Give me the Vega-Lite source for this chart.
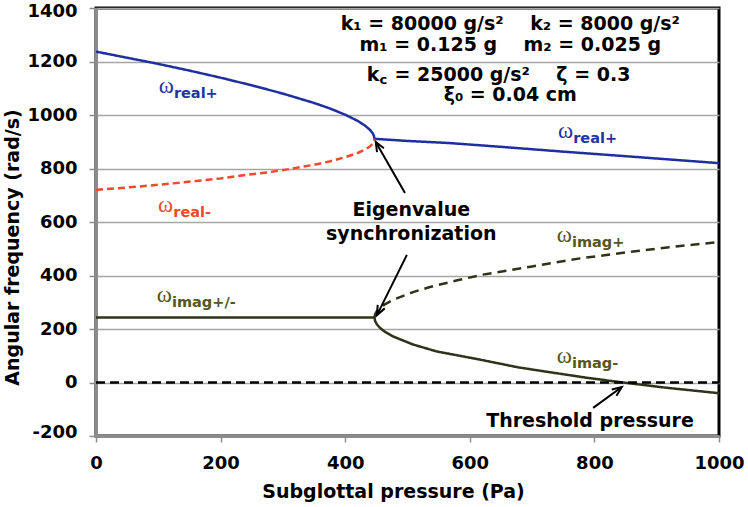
{
  "$schema": "https://vega.github.io/schema/vega-lite/v6.json",
  "width": 623,
  "height": 428,
  "autosize": "none",
  "padding": {"left": 96, "top": 8, "right": 29, "bottom": 71},
  "background": "white",
  "config": {
    "view": {"stroke": "#000000", "strokeWidth": 3},
    "text": {"font": "DejaVu Sans"}
  },
  "datasets": {
    "curves": [
      {"s": "b", "p": 0, "w": 1237}, {"s": "b", "p": 50, "w": 1214}, {"s": "b", "p": 100, "w": 1191}, {"s": "b", "p": 150, "w": 1166},
      {"s": "b", "p": 199, "w": 1140}, {"s": "b", "p": 250, "w": 1111}, {"s": "b", "p": 300, "w": 1080}, {"s": "b", "p": 350, "w": 1045},
      {"s": "b", "p": 376, "w": 1024}, {"s": "b", "p": 401, "w": 1000}, {"s": "b", "p": 420, "w": 978}, {"s": "b", "p": 432, "w": 960},
      {"s": "b", "p": 440, "w": 944}, {"s": "b", "p": 444, "w": 932}, {"s": "b", "p": 446, "w": 923}, {"s": "b", "p": 447, "w": 911},
      {"s": "b", "p": 500, "w": 903}, {"s": "b", "p": 568, "w": 895}, {"s": "b", "p": 650, "w": 881}, {"s": "b", "p": 750, "w": 863},
      {"s": "b", "p": 850, "w": 846}, {"s": "b", "p": 1000, "w": 820},
      {"s": "r", "p": 0, "w": 720}, {"s": "r", "p": 50, "w": 729}, {"s": "r", "p": 100, "w": 739}, {"s": "r", "p": 160, "w": 753},
      {"s": "r", "p": 200, "w": 763}, {"s": "r", "p": 241, "w": 776}, {"s": "r", "p": 280, "w": 787}, {"s": "r", "p": 316, "w": 800},
      {"s": "r", "p": 350, "w": 814}, {"s": "r", "p": 376, "w": 827}, {"s": "r", "p": 401, "w": 843}, {"s": "r", "p": 420, "w": 858},
      {"s": "r", "p": 432, "w": 871}, {"s": "r", "p": 440, "w": 883}, {"s": "r", "p": 444, "w": 893}, {"s": "r", "p": 446, "w": 900},
      {"s": "r", "p": 447, "w": 911},
      {"s": "o", "p": 0, "w": 243}, {"s": "o", "p": 200, "w": 243}, {"s": "o", "p": 447, "w": 243}, {"s": "o", "p": 448, "w": 230},
      {"s": "o", "p": 451, "w": 217}, {"s": "o", "p": 456, "w": 204}, {"s": "o", "p": 463, "w": 191}, {"s": "o", "p": 477, "w": 172},
      {"s": "o", "p": 509, "w": 142}, {"s": "o", "p": 547, "w": 116}, {"s": "o", "p": 611, "w": 88}, {"s": "o", "p": 677, "w": 57},
      {"s": "o", "p": 724, "w": 40}, {"s": "o", "p": 787, "w": 18}, {"s": "o", "p": 846, "w": 0}, {"s": "o", "p": 917, "w": -20},
      {"s": "o", "p": 1000, "w": -40},
      {"s": "od", "p": 447, "w": 243}, {"s": "od", "p": 448, "w": 255}, {"s": "od", "p": 451, "w": 267}, {"s": "od", "p": 456, "w": 279},
      {"s": "od", "p": 463, "w": 291}, {"s": "od", "p": 477, "w": 309}, {"s": "od", "p": 509, "w": 338}, {"s": "od", "p": 536, "w": 357},
      {"s": "od", "p": 580, "w": 382}, {"s": "od", "p": 620, "w": 403}, {"s": "od", "p": 700, "w": 434}, {"s": "od", "p": 777, "w": 464},
      {"s": "od", "p": 850, "w": 486}, {"s": "od", "p": 920, "w": 506}, {"s": "od", "p": 1000, "w": 525},
      {"s": "z", "p": 0, "w": 0}, {"s": "z", "p": 1000, "w": 0}
    ],
    "labels": [
      {"g": "b", "lab": "real+", "p": 125, "w": 1082},
      {"g": "b", "lab": "real+", "p": 766, "w": 914},
      {"g": "r", "lab": "real-", "p": 124, "w": 637},
      {"g": "o", "lab": "imag+/-", "p": 122, "w": 301},
      {"g": "o", "lab": "imag+", "p": 764, "w": 525},
      {"g": "o", "lab": "imag-", "p": 764, "w": 73}
    ],
    "notes": [
      {"t": "k₁ = 80000 g/s²\u00a0\u00a0\u00a0\u00a0k₂ = 8000 g/s²", "p": 665, "w": 1340},
      {"t": "m₁ = 0.125 g\u00a0\u00a0\u00a0\u00a0m₂ = 0.025 g", "p": 665, "w": 1262},
      {"t": "ξ₀ = 0.04 cm", "p": 665, "w": 1073},
      {"t": "Eigenvalue", "p": 506, "w": 645},
      {"t": "synchronization", "p": 506, "w": 555},
      {"t": "Threshold pressure", "p": 793, "w": -144}
    ],
    "kc": [
      {"part": "k", "t": "k", "p": 455, "w": 1148},
      {"part": "c", "t": "c", "p": 455, "w": 1148},
      {"part": "rest", "t": "= 25000 g/s²\u00a0\u00a0\u00a0\u00a0ζ = 0.3", "p": 455, "w": 1148}
    ],
    "arrows": [
      {"id": "a", "p": 496, "w": 708, "p2": 449, "w2": 899},
      {"id": "b", "p": 499, "w": 477, "p2": 451, "w2": 252},
      {"id": "c", "p": 798, "w": -95, "p2": 844, "w2": -17}
    ]
  },
  "layer": [
    {
      "data": {"name": "curves"},
      "mark": {"type": "line", "strokeWidth": 2.5},
      "encoding": {
        "x": {
          "field": "p", "type": "quantitative", "title": "Subglottal pressure (Pa)",
          "scale": {"domain": [0, 1000], "nice": false, "zero": false},
          "axis": {
            "values": [0, 200, 400, 600, 800, 1000],
            "labelExpr": "datum.value < 0 ? '-' + abs(datum.value) : '' + datum.value",
            "grid": false,
            "domainColor": "#8c8c8c", "domainWidth": 3,
            "tickColor": "#8c8c8c", "tickWidth": 1.5, "tickSize": 6,
            "labelFont": "DejaVu Sans", "labelFontWeight": "bold", "labelFontSize": 18,
            "labelColor": "#000000", "labelPadding": 12, "labelFlush": false, "labelOverlap": false,
            "titleFont": "DejaVu Sans", "titleFontWeight": "bold", "titleFontSize": 19, "titleColor": "#000000",
            "titleX": 297, "titleY": 55, "titleBaseline": "middle", "titleAlign": "center"
          }
        },
        "y": {
          "field": "w", "type": "quantitative", "title": "Angular frequency (rad/s)",
          "scale": {"domain": [-200, 1400], "nice": false, "zero": false},
          "axis": {
            "values": [-200, 0, 200, 400, 600, 800, 1000, 1200, 1400],
            "labelExpr": "datum.value < 0 ? '-' + abs(datum.value) : '' + datum.value",
            "labelOffset": {"expr": "datum.value == 1400 ? 3 : (datum.value == -200 ? -4 : 0)"},
            "grid": true, "gridColor": "#a6a6a6", "gridWidth": 1.5,
            "domainColor": "#8c8c8c", "domainWidth": 3,
            "tickColor": "#8c8c8c", "tickWidth": 1.5, "tickSize": 7,
            "labelFont": "DejaVu Sans", "labelFontWeight": "bold", "labelFontSize": 18,
            "labelColor": "#000000", "labelPadding": 12, "labelFlush": false, "labelOverlap": false,
            "titleFont": "DejaVu Sans", "titleFontWeight": "bold", "titleFontSize": 19, "titleColor": "#000000",
            "titleX": -84, "titleY": 239, "titleAngle": 270, "titleAlign": "center", "titleBaseline": "middle"
          }
        },
        "color": {
          "field": "s", "type": "nominal",
          "scale": {"domain": ["b", "r", "o", "od", "z"], "range": ["#1f2f9f", "#ef4a2b", "#2f3319", "#2f3319", "#000000"]},
          "legend": null
        },
        "strokeDash": {
          "field": "s", "type": "nominal",
          "scale": {"domain": ["b", "r", "o", "od", "z"], "range": [[1, 0], [7, 4], [1, 0], [9, 6], [9, 5]]},
          "legend": null
        }
      }
    },
    {
      "data": {"name": "arrows"},
      "mark": {"type": "rule", "color": "#000000", "strokeWidth": 2},
      "encoding": {
        "x": {"field": "p", "type": "quantitative", "title": "Subglottal pressure (Pa)"},
        "y": {"field": "w", "type": "quantitative", "title": "Angular frequency (rad/s)"},
        "x2": {"field": "p2"},
        "y2": {"field": "w2"}
      }
    },
    {
      "data": {"name": "arrows"},
      "transform": [{"filter": "datum.id === 'a'"}],
      "mark": {"type": "point", "shape": "M-0.5,1.2L0,0L0.5,1.2", "filled": false, "stroke": "#000000", "strokeWidth": 2, "size": 250, "angle": 330, "opacity": 1},
      "encoding": {
        "x": {"field": "p2", "type": "quantitative", "title": "Subglottal pressure (Pa)"},
        "y": {"field": "w2", "type": "quantitative", "title": "Angular frequency (rad/s)"}
      }
    },
    {
      "data": {"name": "arrows"},
      "transform": [{"filter": "datum.id === 'b'"}],
      "mark": {"type": "point", "shape": "M-0.5,1.2L0,0L0.5,1.2", "filled": false, "stroke": "#000000", "strokeWidth": 2, "size": 250, "angle": 206.6, "opacity": 1},
      "encoding": {
        "x": {"field": "p2", "type": "quantitative", "title": "Subglottal pressure (Pa)"},
        "y": {"field": "w2", "type": "quantitative", "title": "Angular frequency (rad/s)"}
      }
    },
    {
      "data": {"name": "arrows"},
      "transform": [{"filter": "datum.id === 'c'"}],
      "mark": {"type": "point", "shape": "M-0.5,1.2L0,0L0.5,1.2", "filled": false, "stroke": "#000000", "strokeWidth": 2, "size": 250, "angle": 54, "opacity": 1},
      "encoding": {
        "x": {"field": "p2", "type": "quantitative", "title": "Subglottal pressure (Pa)"},
        "y": {"field": "w2", "type": "quantitative", "title": "Angular frequency (rad/s)"}
      }
    },
    {
      "data": {"name": "labels"},
      "mark": {"type": "text", "text": "ω", "align": "right", "baseline": "alphabetic", "font": "Liberation Serif", "fontSize": 23},
      "encoding": {
        "x": {"field": "p", "type": "quantitative", "title": "Subglottal pressure (Pa)"},
        "y": {"field": "w", "type": "quantitative", "title": "Angular frequency (rad/s)"},
        "color": {"field": "g", "type": "nominal", "scale": {"domain": ["b", "r", "o"], "range": ["#2233a6", "#f04a28", "#55561c"]}, "legend": null}
      }
    },
    {
      "data": {"name": "labels"},
      "mark": {"type": "text", "align": "left", "baseline": "alphabetic", "dy": 5, "font": "DejaVu Sans", "fontWeight": "bold", "fontSize": 14.5},
      "encoding": {
        "x": {"field": "p", "type": "quantitative", "title": "Subglottal pressure (Pa)"},
        "y": {"field": "w", "type": "quantitative", "title": "Angular frequency (rad/s)"},
        "text": {"field": "lab"},
        "color": {"field": "g", "type": "nominal", "scale": {"domain": ["b", "r", "o"], "range": ["#2233a6", "#f04a28", "#55561c"]}, "legend": null}
      }
    },
    {
      "data": {"name": "notes"},
      "mark": {"type": "text", "align": "center", "baseline": "middle", "font": "DejaVu Sans", "fontWeight": "bold", "fontSize": 19, "color": "#000000"},
      "encoding": {
        "x": {"field": "p", "type": "quantitative", "title": "Subglottal pressure (Pa)"},
        "y": {"field": "w", "type": "quantitative", "title": "Angular frequency (rad/s)"},
        "text": {"field": "t"}
      }
    },
    {
      "data": {"name": "kc"},
      "transform": [{"filter": "datum.part === 'k'"}],
      "mark": {"type": "text", "align": "right", "baseline": "middle", "font": "DejaVu Sans", "fontWeight": "bold", "fontSize": 19, "color": "#000000"},
      "encoding": {
        "x": {"field": "p", "type": "quantitative", "title": "Subglottal pressure (Pa)"},
        "y": {"field": "w", "type": "quantitative", "title": "Angular frequency (rad/s)"},
        "text": {"field": "t"}
      }
    },
    {
      "data": {"name": "kc"},
      "transform": [{"filter": "datum.part === 'c'"}],
      "mark": {"type": "text", "align": "left", "baseline": "middle", "dy": 5, "font": "DejaVu Sans", "fontWeight": "bold", "fontSize": 13, "color": "#000000"},
      "encoding": {
        "x": {"field": "p", "type": "quantitative", "title": "Subglottal pressure (Pa)"},
        "y": {"field": "w", "type": "quantitative", "title": "Angular frequency (rad/s)"},
        "text": {"field": "t"}
      }
    },
    {
      "data": {"name": "kc"},
      "transform": [{"filter": "datum.part === 'rest'"}],
      "mark": {"type": "text", "align": "left", "baseline": "middle", "dx": 15, "font": "DejaVu Sans", "fontWeight": "bold", "fontSize": 19, "color": "#000000"},
      "encoding": {
        "x": {"field": "p", "type": "quantitative", "title": "Subglottal pressure (Pa)"},
        "y": {"field": "w", "type": "quantitative", "title": "Angular frequency (rad/s)"},
        "text": {"field": "t"}
      }
    }
  ],
  "resolve": {"scale": {"color": "independent", "strokeDash": "independent"}}
}
